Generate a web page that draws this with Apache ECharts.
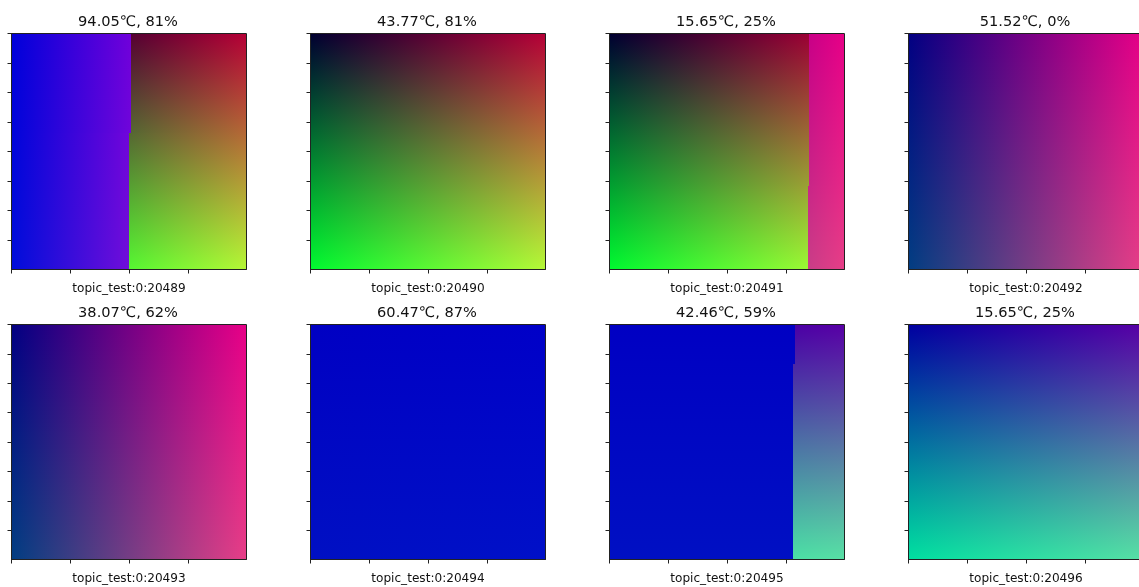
<!DOCTYPE html>
<html>
<head>
<meta charset="utf-8">
<style>html,body{margin:0;padding:0;background:#fff;overflow:hidden}#c{width:1139px;height:587px}</style>
<script src="https://cdn.jsdelivr.net/npm/echarts@6/dist/echarts.min.js"></script>
</head>
<body>
<div id="c"></div>
<script>
// Panel texts
const panelTitles = ['94.05℃, 81%','43.77℃, 81%','15.65℃, 25%','51.52℃, 0%','38.07℃, 62%','60.47℃, 87%','42.46℃, 59%','15.65℃, 25%'];
const topicLabels = ['topic_test:0:20489','topic_test:0:20490','topic_test:0:20491','topic_test:0:20492','topic_test:0:20493','topic_test:0:20494','topic_test:0:20495','topic_test:0:20496'];
const xTicks = [0,100,200,300];
const yTicks = [0,50,100,150,200,250,300,350];

// Image regions, in image coordinates (400 x 400, y down):
// xFrom, xTo, yFrom, yTo, red at xFrom, red at xTo, green at yFrom, green at yTo, blue at xFrom, blue at xTo
const regions20489 = [
  [0,203,0,169, 0,112, 0,5, 218,218],
  [0,200,169,400, 0,112, 5,14, 218,218],
  [203,400,0,169, 85,182, 0,104, 50,54],
  [200,400,169,400, 85,182, 104,248, 50,54]
];
const regions20490 = [
  [0,400,0,400, 0,182, 0,250, 48,55]
];
const regions20491 = [
  [0,340,0,258, 0,155, 0,160, 48,52],
  [0,338,258,400, 0,155, 160,250, 48,52],
  [340,400,0,258, 200,232, 0,38, 135,135],
  [338,400,258,400, 200,232, 38,62, 135,135]
];
const regions20492 = [
  [0,400,0,400, 2,232, 0,62, 130,135]
];
const regions20493 = [
  [0,400,0,400, 2,232, 0,62, 130,135]
];
const regions20494 = [
  [0,400,0,400, 0,0, 0,16, 195,200]
];
const regions20495 = [
  [0,315,0,67, 0,0, 0,3, 195,195],
  [0,313,67,400, 0,0, 3,16, 195,195],
  [315,400,0,67, 75,88, 0,37, 165,165],
  [313,400,67,400, 75,88, 37,225, 165,165]
];
const regions20496 = [
  [0,400,0,400, 0,88, 0,225, 160,165]
];
const panelRegions = [regions20489,regions20490,regions20491,regions20492,regions20493,regions20494,regions20495,regions20496];

const gridLefts = [11.5,310.5,609.5,908.5];
const gridTops = [33.5,324.5];
const plotWidth = 235;
const plotHeights = [236,235];
const linear = (x2, y2, a, b) => new echarts.graphic.LinearGradient(0,0,x2,y2,[{offset:0,color:a},{offset:1,color:b}]);

function regionShape(api) {
  const p0 = api.coord([api.value(0), api.value(2)]);
  const p1 = api.coord([api.value(1), api.value(3)]);
  const x = Math.round(p0[0]), y = Math.round(p0[1]);
  return {x, y, width:Math.round(p1[0])-x, height:Math.round(p1[1])-y};
}
const v = (api,i) => Math.round(api.value(i));
function renderBase(params, api) {
  return {type:'rect', silent:true, shape:regionShape(api), style:{fill:'#000'}};
}
function renderRedBlue(params, api) {
  return {type:'rect', silent:true, shape:regionShape(api),
    style:{fill:linear(1,0,`rgb(${v(api,4)},0,${v(api,8)})`,`rgb(${v(api,5)},0,${v(api,9)})`)}};
}
function renderGreen(params, api) {
  return {type:'rect', silent:true, shape:regionShape(api),
    style:{fill:linear(0,1,`rgb(0,${v(api,6)},0)`,`rgb(0,${v(api,7)},0)`)}};
}
function renderFrame(params, api) {
  const p0 = api.coord([0,0]), p1 = api.coord([400,400]);
  return {type:'rect', silent:true, shape:{x:p0[0],y:p0[1],width:p1[0]-p0[0],height:p1[1]-p0[1]},
    style:{fill:null, stroke:'#222', lineWidth:1}};
}

const grids=[], xAxes=[], yAxes=[], series=[], titles=[];
panelTitles.forEach((t,i)=>{
  const row = i<4?0:1;
  const left = gridLefts[i%4], top = gridTops[row];
  grids.push({left, top, width:plotWidth, height:plotHeights[row], containLabel:false, outerBoundsMode:'none'});
  titles.push({text:t, left:left+plotWidth/2-1, top:top-19, padding:0, textAlign:'center',
    textStyle:{fontFamily:'DejaVu Sans', fontSize:14.6, fontWeight:'normal', color:'#111'}});
  xAxes.push({gridIndex:i, type:'value', min:0, max:400, interval:100, position:'bottom',
    name:topicLabels[i], nameLocation:'middle', nameGap:13,
    nameTextStyle:{fontFamily:'DejaVu Sans', fontSize:12.1, color:'#111'},
    axisLine:{show:true, onZero:false, lineStyle:{color:'#222',width:1}},
    axisLabel:{show:false}, splitLine:{show:false},
    axisTick:{show:true, length:4, customValues:xTicks, lineStyle:{color:'#222',width:1}}});
  yAxes.push({gridIndex:i, type:'value', min:0, max:400, interval:50, inverse:true, position:'left',
    axisLine:{show:true, onZero:false, lineStyle:{color:'#222',width:1}},
    axisLabel:{show:false}, splitLine:{show:false},
    axisTick:{show:true, length:4, customValues:yTicks, lineStyle:{color:'#222',width:1}}});
  const layer = (renderItem, z, blendMode) => ({type:'custom', coordinateSystem:'cartesian2d', xAxisIndex:i, yAxisIndex:i,
    silent:true, animation:false, clip:true, z, blendMode, encode:{x:[0,1],y:[2,3]}, data:panelRegions[i], renderItem});
  series.push(layer(renderBase, 2, 'source-over'));
  series.push(layer(renderRedBlue, 3, 'lighter'));
  series.push(layer(renderGreen, 4, 'lighter'));
  series.push({type:'custom', coordinateSystem:'cartesian2d', xAxisIndex:i, yAxisIndex:i, silent:true,
    animation:false, clip:false, z:5, encode:{x:0,y:1}, data:[[0,0]], renderItem:renderFrame});
});

const chart = echarts.init(document.getElementById('c'), null, {renderer:'canvas'});
chart.setOption({animation:false, backgroundColor:'#fff', title:titles, grid:grids, xAxis:xAxes, yAxis:yAxes, series});
</script>
</body>
</html>
